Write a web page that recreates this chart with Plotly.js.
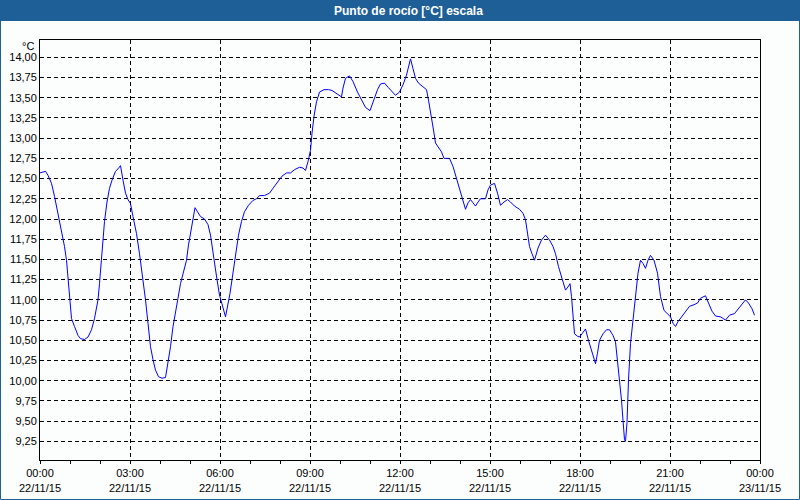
<!DOCTYPE html>
<html>
<head>
<meta charset="utf-8">
<script src="https://cdn.plot.ly/plotly-3.0.1.min.js"></script>
<style>html,body{margin:0;padding:0;background:#fcfdfd;}#chart{width:800px;height:500px;}</style>
</head>
<body>
<div id="chart"></div>
<script>
// minutes after 22/11/15 00:00
const minutes = [0,11,16,23,29,36,43,49,53,57,60,63,69,76,81,89,96,103,109,116,119,123,126,129,134,139,144,151,156,161,166,171,176,181,186,193,199,206,211,216,221,226,231,237,244,251,256,261,266,271,276,281,287,293,297,301,306,310,315,321,329,336,341,344,349,354,359,371,380,388,393,397,403,409,417,426,433,439,449,459,466,475,484,493,501,509,519,526,531,536,541,544,548,553,559,568,577,584,593,603,606,611,619,626,635,643,651,660,668,675,681,689,696,704,711,719,726,733,741,746,751,757,764,773,777,783,787,791,797,803,808,819,826,833,839,845,851,856,861,866,871,876,881,891,896,901,909,915,921,928,935,941,949,959,966,971,975,979,984,989,996,1003,1011,1019,1026,1031,1037,1044,1051,1056,1060,1063,1067,1069,1075,1079,1084,1091,1096,1103,1111,1115,1119,1126,1133,1139,1146,1151,1155,1159,1163,1166,1169,1171,1174,1177,1181,1186,1191,1196,1201,1206,1211,1216,1221,1228,1235,1241,1248,1255,1261,1266,1271,1276,1284,1291,1299,1308,1315,1321,1331,1337,1344,1351,1361,1371,1379,1389,1397,1406,1411,1417,1424,1429];
const dewPoint = [12.57,12.59,12.54,12.44,12.28,12.07,11.86,11.66,11.49,11.20,10.96,10.77,10.67,10.56,10.52,10.51,10.54,10.63,10.77,11.00,11.20,11.49,11.74,11.97,12.21,12.38,12.48,12.59,12.62,12.66,12.48,12.32,12.24,12.19,12.03,11.82,11.57,11.25,11.00,10.71,10.42,10.26,10.13,10.05,10.03,10.04,10.21,10.42,10.67,10.87,11.02,11.20,11.33,11.49,11.68,11.82,12.01,12.14,12.09,12.03,12.00,11.93,11.80,11.66,11.45,11.25,11.06,10.79,11.08,11.45,11.63,11.80,11.97,12.09,12.17,12.23,12.25,12.29,12.29,12.32,12.38,12.46,12.53,12.57,12.57,12.61,12.64,12.63,12.60,12.71,12.85,13.06,13.27,13.45,13.57,13.60,13.60,13.59,13.55,13.51,13.62,13.74,13.77,13.70,13.57,13.47,13.38,13.34,13.47,13.60,13.67,13.68,13.63,13.57,13.53,13.57,13.66,13.78,13.98,13.86,13.74,13.68,13.64,13.60,13.47,13.27,13.10,12.94,12.89,12.83,12.75,12.75,12.65,12.50,12.36,12.24,12.12,12.20,12.24,12.20,12.16,12.21,12.25,12.25,12.36,12.42,12.44,12.32,12.17,12.21,12.24,12.21,12.16,12.12,12.07,11.99,11.82,11.66,11.57,11.49,11.64,11.74,11.80,11.74,11.66,11.57,11.41,11.25,11.12,11.16,11.20,11.04,10.79,10.58,10.55,10.54,10.58,10.64,10.52,10.38,10.21,10.34,10.50,10.58,10.63,10.63,10.56,10.48,10.26,9.97,9.76,9.51,9.27,9.25,9.48,10.01,10.46,10.75,11.04,11.33,11.49,11.45,11.39,11.49,11.55,11.49,11.33,11.04,10.87,10.82,10.79,10.71,10.67,10.73,10.80,10.86,10.92,10.94,10.96,11.02,11.05,10.96,10.86,10.80,10.79,10.75,10.81,10.83,10.89,10.96,11.00,10.96,10.89,10.81];
const tickDates = ['2015-11-22 00:00','2015-11-22 03:00','2015-11-22 06:00','2015-11-22 09:00','2015-11-22 12:00','2015-11-22 15:00','2015-11-22 18:00','2015-11-22 21:00','2015-11-23 00:00'];
const tickTimes = ['00:00','03:00','06:00','09:00','12:00','15:00','18:00','21:00','00:00'];
const tickDays = ['22/11/15','22/11/15','22/11/15','22/11/15','22/11/15','22/11/15','22/11/15','22/11/15','23/11/15'];
const chartTitle = 'Punto de rocío [°C] escala';
const unitLabel = '°C';

function pad(n){return (n<10?'0':'')+n;}
const xs = minutes.map(m => '2015-11-22 ' + pad(Math.floor(m/60)) + ':' + pad(m%60));
const tickText = tickTimes.map((t,i) => t + '<br>' + tickDays[i]);

const W=800,H=500,L=40,R=40,T=40,B=40;
const pw=W-L-R, ph=H-T-B;
const px = v => (v-L)/pw;
const py = v => (H-B-v)/ph;

const font = {family:'"Liberation Sans", Arial, sans-serif', size:11, color:'#000'};

Plotly.newPlot('chart', [{
  type:'scatter', mode:'lines', x:xs, y:dewPoint,
  line:{color:'#0000ff', width:1}, hoverinfo:'skip'
}], {
  width:W, height:H,
  margin:{l:L,r:R,t:T,b:B,pad:0},
  paper_bgcolor:'#fcfdfd', plot_bgcolor:'#fcfdfd',
  separators:',.',
  showlegend:false,
  font:font,
  xaxis:{
    type:'date', range:['2015-11-22 00:00','2015-11-23 00:00'],
    tickmode:'array', tickvals:tickDates, ticktext:tickText,
    ticks:'outside', ticklen:3, tickcolor:'#000', tickwidth:1,
    showline:true, linecolor:'#000', linewidth:1, mirror:true,
    showgrid:true, gridcolor:'#000', gridwidth:1, griddash:'4px,3px',
    zeroline:false, tickfont:font,
    minor:{dtick:3600000, tick0:'2015-11-22 00:00', ticks:'outside', ticklen:3, tickcolor:'#000', showgrid:false}
  },
  yaxis:{
    range:[9.019,14.214], tick0:9.25, dtick:0.25, tickformat:'.2f',
    ticks:'', showline:true, linecolor:'#000', linewidth:1, mirror:true,
    showgrid:true, gridcolor:'#000', gridwidth:1, griddash:'4px,3px',
    zeroline:false, tickfont:font
  },
  shapes:[
    {type:'rect', xref:'paper', yref:'paper', x0:px(0), x1:px(800), y0:py(21), y1:py(0), fillcolor:'#1e5f98', line:{width:0}, layer:'above'},
    {type:'rect', xref:'paper', yref:'paper', x0:px(0.5), x1:px(799.5), y0:py(499.5), y1:py(0.5), fillcolor:'rgba(0,0,0,0)', line:{color:'#1e5f98', width:1}, layer:'above'}
  ],
  annotations:[
    {xref:'paper', yref:'paper', x:px(408), y:py(10.5), text:'<b>'+chartTitle+'</b>', showarrow:false, xanchor:'center', yanchor:'middle', font:{family:'"Liberation Sans", Arial, sans-serif', size:12, color:'#fff'}},
    {xref:'paper', yref:'paper', x:px(36), y:py(46), text:unitLabel, showarrow:false, xanchor:'right', yanchor:'middle', font:font}
  ]
}, {displayModeBar:false, staticPlot:true});
</script>
</body>
</html>
